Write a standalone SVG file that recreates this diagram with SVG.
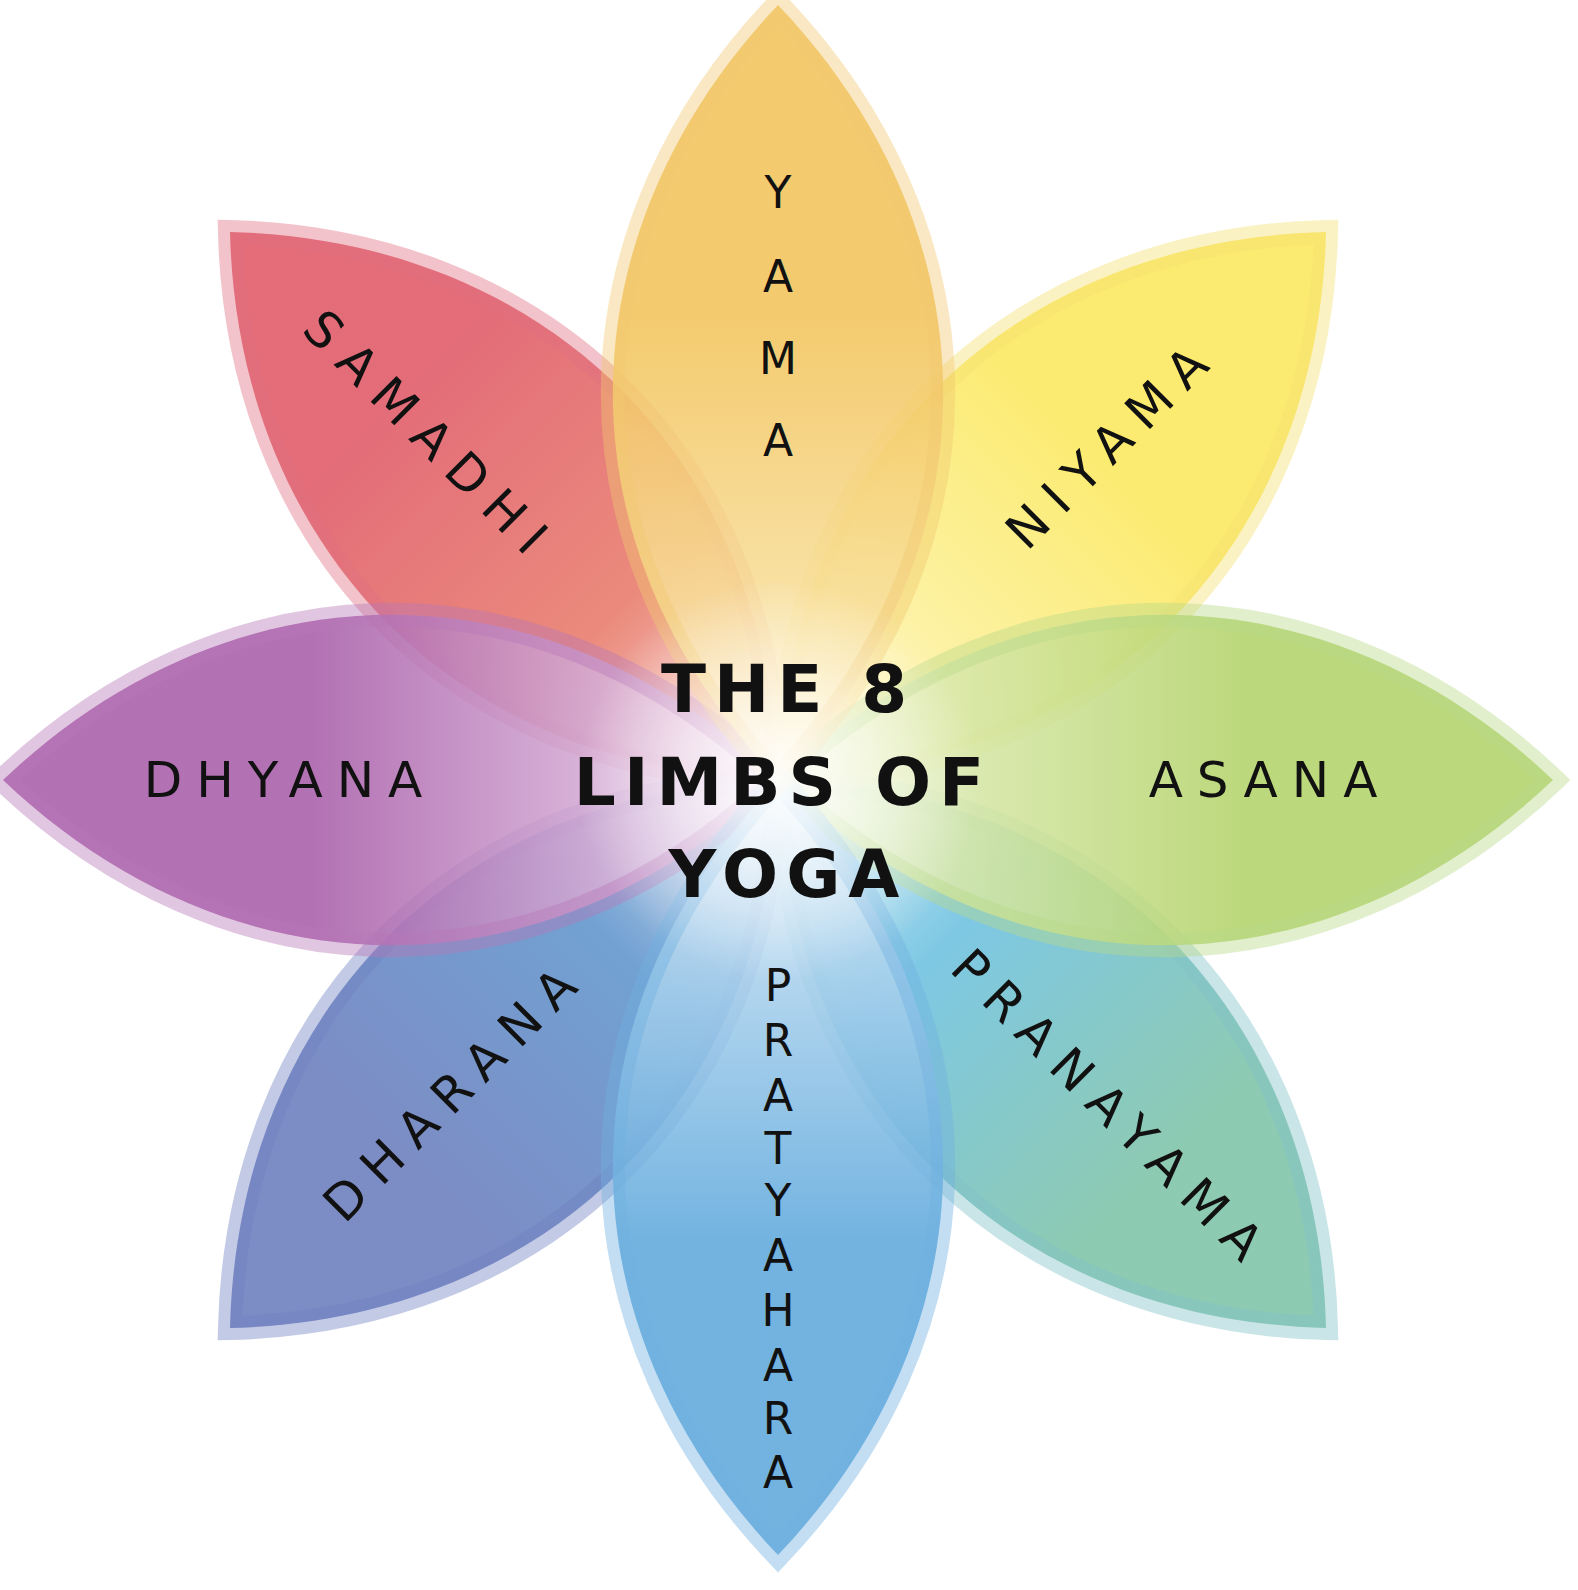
<svg xmlns="http://www.w3.org/2000/svg" width="1578" height="1590" viewBox="0 0 1578 1590">
<style>
.p{stroke-width:24;stroke-opacity:0.42;fill-opacity:0.88}
.l{font-family:"DejaVu Sans",sans-serif;font-size:50px;letter-spacing:14px;fill:#111;text-anchor:middle;dominant-baseline:central}
.v{font-family:"DejaVu Sans",sans-serif;font-size:44px;fill:#111;text-anchor:middle;dominant-baseline:central}
.t{font-family:"DejaVu Sans",sans-serif;font-weight:bold;font-size:66px;letter-spacing:8px;fill:#111;text-anchor:middle}
</style>
<defs>
<path id="petal" d="M0,0 C-235,-250 -205,-560 0,-775 C205,-560 235,-250 0,0 Z"/>
<linearGradient id="g1" x1="0" y1="-775" x2="0" y2="0" gradientUnits="userSpaceOnUse"><stop offset="0.4" stop-color="#f2c35a"/><stop offset="1" stop-color="#fbeec0"/></linearGradient>
<linearGradient id="g2" x1="0" y1="-775" x2="0" y2="0" gradientUnits="userSpaceOnUse"><stop offset="0.4" stop-color="#fbe85c"/><stop offset="1" stop-color="#fdf6c8"/></linearGradient>
<linearGradient id="g3" x1="0" y1="-775" x2="0" y2="0" gradientUnits="userSpaceOnUse"><stop offset="0.4" stop-color="#b3d36a"/><stop offset="1" stop-color="#eef4d0"/></linearGradient>
<linearGradient id="g4" x1="0" y1="-775" x2="0" y2="0" gradientUnits="userSpaceOnUse"><stop offset="0.3" stop-color="#7ec3a8"/><stop offset="0.7" stop-color="#6cc0e0"/><stop offset="1" stop-color="#e2f2f8"/></linearGradient>
<linearGradient id="g5" x1="0" y1="-775" x2="0" y2="0" gradientUnits="userSpaceOnUse"><stop offset="0.4" stop-color="#5ea8dc"/><stop offset="1" stop-color="#e0eef8"/></linearGradient>
<linearGradient id="g6" x1="0" y1="-775" x2="0" y2="0" gradientUnits="userSpaceOnUse"><stop offset="0.3" stop-color="#6a7cbc"/><stop offset="0.7" stop-color="#5e94cc"/><stop offset="1" stop-color="#e4e8f4"/></linearGradient>
<linearGradient id="g7" x1="0" y1="-775" x2="0" y2="0" gradientUnits="userSpaceOnUse"><stop offset="0.4" stop-color="#a85ea9"/><stop offset="1" stop-color="#f0dcef"/></linearGradient>
<linearGradient id="g8" x1="0" y1="-775" x2="0" y2="0" gradientUnits="userSpaceOnUse"><stop offset="0.3" stop-color="#df5866"/><stop offset="0.7" stop-color="#e87a6a"/><stop offset="1" stop-color="#f8e0dc"/></linearGradient>
<radialGradient id="glow" cx="778" cy="780" r="200" gradientUnits="userSpaceOnUse"><stop offset="0" stop-color="#fff" stop-opacity="0.95"/><stop offset="0.5" stop-color="#fff" stop-opacity="0.5"/><stop offset="1" stop-color="#fff" stop-opacity="0"/></radialGradient>
</defs>
<rect width="1578" height="1590" fill="#fff"/>
<g transform="translate(778,780)">
<use id="samadhi-petal" href="#petal" class="p" fill="url(#g8)" stroke="#e07080" transform="rotate(-45)"/>
<use id="dharana-petal" href="#petal" class="p" fill="url(#g6)" stroke="#7080c0" transform="rotate(-135)"/>
<use id="pranayama-petal" href="#petal" class="p" fill="url(#g4)" stroke="#80c0c8" transform="rotate(135)"/>
<use id="niyama-petal" href="#petal" class="p" fill="url(#g2)" stroke="#f6e070" transform="rotate(45)"/>
<use id="dhyana-petal" href="#petal" class="p" fill="url(#g7)" stroke="#b878b8" transform="rotate(-90)"/>
<use id="asana-petal" href="#petal" class="p" fill="url(#g3)" stroke="#b8d888" transform="rotate(90)"/>
<use id="pratyahara-petal" href="#petal" class="p" fill="url(#g5)" stroke="#70b0e0" transform="rotate(180)"/>
<use id="yama-petal" href="#petal" class="p" fill="url(#g1)" stroke="#f0c870"/>
</g>
<circle cx="778" cy="780" r="200" fill="url(#glow)"/>
<g id="yama"><text class="v" x="778" y="192" font-size="54">Y</text><text class="v" x="778" y="276" font-size="54">A</text><text class="v" x="778" y="358" font-size="54">M</text><text class="v" x="778" y="440" font-size="54">A</text></g>
<g id="pratyahara">
<text class="v" x="778" y="985">P</text><text class="v" x="778" y="1040">R</text><text class="v" x="778" y="1095">A</text><text class="v" x="778" y="1148">T</text><text class="v" x="778" y="1200">Y</text><text class="v" x="778" y="1255">A</text><text class="v" x="778" y="1310">H</text><text class="v" x="778" y="1365">A</text><text class="v" x="778" y="1418">R</text><text class="v" x="778" y="1472">A</text></g>
<g id="niyama"><text class="l" transform="translate(1112,443) rotate(-45)">NIYAMA</text></g>
<g id="samadhi"><text class="l" transform="translate(430,437) rotate(45)">SAMADHI</text></g>
<g id="asana"><text class="l" x="1270" y="780">ASANA</text></g>
<g id="dhyana"><text class="l" x="290" y="780">DHYANA</text></g>
<g id="pranayama"><text class="l" transform="translate(1112,1110) rotate(45)">PRANAYAMA</text></g>
<g id="dharana"><text class="l" transform="translate(455,1090) rotate(-45)">DHARANA</text></g>
<g id="title">
<text class="t" x="788" y="712">THE 8</text>
<text class="t" x="783" y="805">LIMBS OF</text>
<text class="t" x="788" y="897">YOGA</text>
</g>
</svg>
